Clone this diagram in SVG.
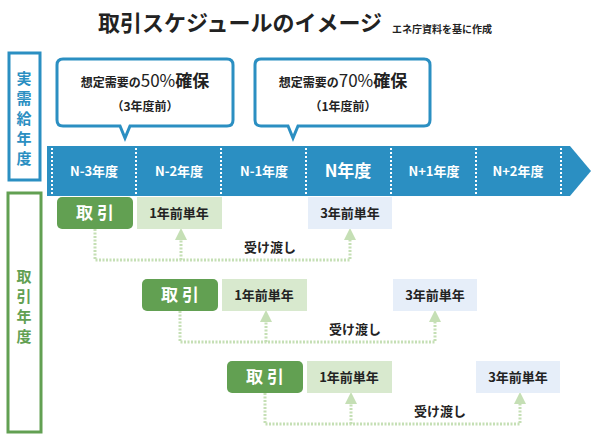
<svg xmlns="http://www.w3.org/2000/svg" width="600" height="441" viewBox="0 0 600 441">
<defs>
<style>
text{font-family:"Noto Sans CJK JP","Noto Sans",sans-serif;font-weight:bold;text-anchor:middle}
.call{fill:#fff;stroke:#2b8fc2;stroke-width:3}
.div{stroke:#fff;stroke-width:2;stroke-dasharray:2 2}
.yr{fill:#fff;font-size:13px}
.tk{fill:#62a052}
.g1{fill:#d8e9ce}
.b3{fill:#e6eef9}
.cell{font-size:13px;fill:#222}
.vt{font-size:15px}
.con{fill:none;stroke:#c5dfb5;stroke-width:3;stroke-dasharray:2 1.5}
</style>
<marker id="ah" viewBox="0 0 10 10" refX="5" refY="5" markerWidth="4" markerHeight="4" orient="auto"><path d="M0,0L10,5L0,10z" fill="#c5dfb5"/></marker>
</defs>
<rect width="600" height="441" fill="#fff"/>
<g id="title">
<text x="240" y="31" font-size="22" fill="#222">取引スケジュールのイメージ</text>
<text x="442" y="33" font-size="10" fill="#222">エネ庁資料を基に作成</text>
</g>
<g id="axis-demand" fill="#2b8fc2">
<rect x="9" y="53" width="31" height="127" fill="#fff" stroke="#2b8fc2" stroke-width="3"/>
<text class="vt" x="24" y="84">実</text>
<text class="vt" x="24" y="104">需</text>
<text class="vt" x="24" y="124">給</text>
<text class="vt" x="24" y="144">年</text>
<text class="vt" x="24" y="164">度</text>
</g>
<g id="timeline">
<path d="M47,146H570L591,171L570,196H47z" fill="#2b8fc2"/>
<line class="div" x1="52" y1="148" x2="52" y2="194"/>
<line class="div" x1="136" y1="148" x2="136" y2="194"/>
<line class="div" x1="221" y1="148" x2="221" y2="194"/>
<line class="div" x1="306" y1="148" x2="306" y2="194"/>
<line class="div" x1="391" y1="148" x2="391" y2="194"/>
<line class="div" x1="476" y1="148" x2="476" y2="194"/>
<line class="div" x1="561" y1="148" x2="561" y2="194"/>
<text class="yr" x="94" y="176">N-3年度</text>
<text class="yr" x="179" y="176">N-2年度</text>
<text class="yr" x="264" y="176">N-1年度</text>
<text class="yr" x="348" y="177" style="font-size:17px">N年度</text>
<text class="yr" x="434" y="176">N+1年度</text>
<text class="yr" x="518" y="176">N+2年度</text>
</g>
<g id="callout1">
<path class="call" d="M63,59H227Q233,59 233,65V120Q233,126 227,126H130L125,138L120,126H63Q57,126 57,120V65Q57,59 63,59z"/>
<text x="145" y="87" font-size="12" fill="#222">想定需要の<tspan font-size="17" font-weight="normal">50%</tspan><tspan font-size="17">確保</tspan></text>
<text x="145" y="111" font-size="12" fill="#222">（3年度前）</text>
</g>
<g id="callout2">
<path class="call" d="M261,59H424Q430,59 430,65V120Q430,126 424,126H298L293,138L288,126H261Q255,126 255,120V65Q255,59 261,59z"/>
<text x="343" y="87" font-size="12" fill="#222">想定需要の<tspan font-size="17" font-weight="normal">70%</tspan><tspan font-size="17">確保</tspan></text>
<text x="343" y="111" font-size="12" fill="#222">（1年度前）</text>
</g>
<g id="axis-trade" fill="#62a052">
<rect x="8" y="193" width="33" height="239" fill="#fff" stroke="#62a052" stroke-width="3"/>
<text class="vt" x="24" y="282">取</text>
<text class="vt" x="24" y="302">引</text>
<text class="vt" x="24" y="322">年</text>
<text class="vt" x="24" y="342">度</text>
</g>
<g id="connectors">
<path class="con" d="M95,229V260H350V234" marker-end="url(#ah)"/>
<path class="con" d="M181,260V234" marker-end="url(#ah)"/>
<path class="con" d="M180,311V342H435V316" marker-end="url(#ah)"/>
<path class="con" d="M266,342V316" marker-end="url(#ah)"/>
<path class="con" d="M265,393V424H520V398" marker-end="url(#ah)"/>
<path class="con" d="M351,424V398" marker-end="url(#ah)"/>
</g>
<g id="row1">
<rect class="tk" x="57" y="197" width="76" height="32" rx="5"/>
<text x="95" y="219" font-size="17" fill="#fff">取 引</text>
<rect class="g1" x="137" y="197" width="85" height="32"/>
<text class="cell" x="179" y="218">1年前単年</text>
<rect class="b3" x="308" y="197" width="84" height="32"/>
<text class="cell" x="350" y="218">3年前単年</text>
<text class="cell" x="270" y="252">受け渡し</text>
</g>
<g id="row2">
<rect class="tk" x="142" y="279" width="76" height="32" rx="5"/>
<text x="180" y="301" font-size="17" fill="#fff">取 引</text>
<rect class="g1" x="222" y="279" width="85" height="32"/>
<text class="cell" x="264" y="300">1年前単年</text>
<rect class="b3" x="393" y="279" width="84" height="32"/>
<text class="cell" x="435" y="300">3年前単年</text>
<text class="cell" x="355" y="334">受け渡し</text>
</g>
<g id="row3">
<rect class="tk" x="227" y="361" width="76" height="32" rx="5"/>
<text x="265" y="383" font-size="17" fill="#fff">取 引</text>
<rect class="g1" x="307" y="361" width="85" height="32"/>
<text class="cell" x="349" y="382">1年前単年</text>
<rect class="b3" x="476" y="361" width="84" height="32"/>
<text class="cell" x="518" y="382">3年前単年</text>
<text class="cell" x="440" y="416">受け渡し</text>
</g>
</svg>
